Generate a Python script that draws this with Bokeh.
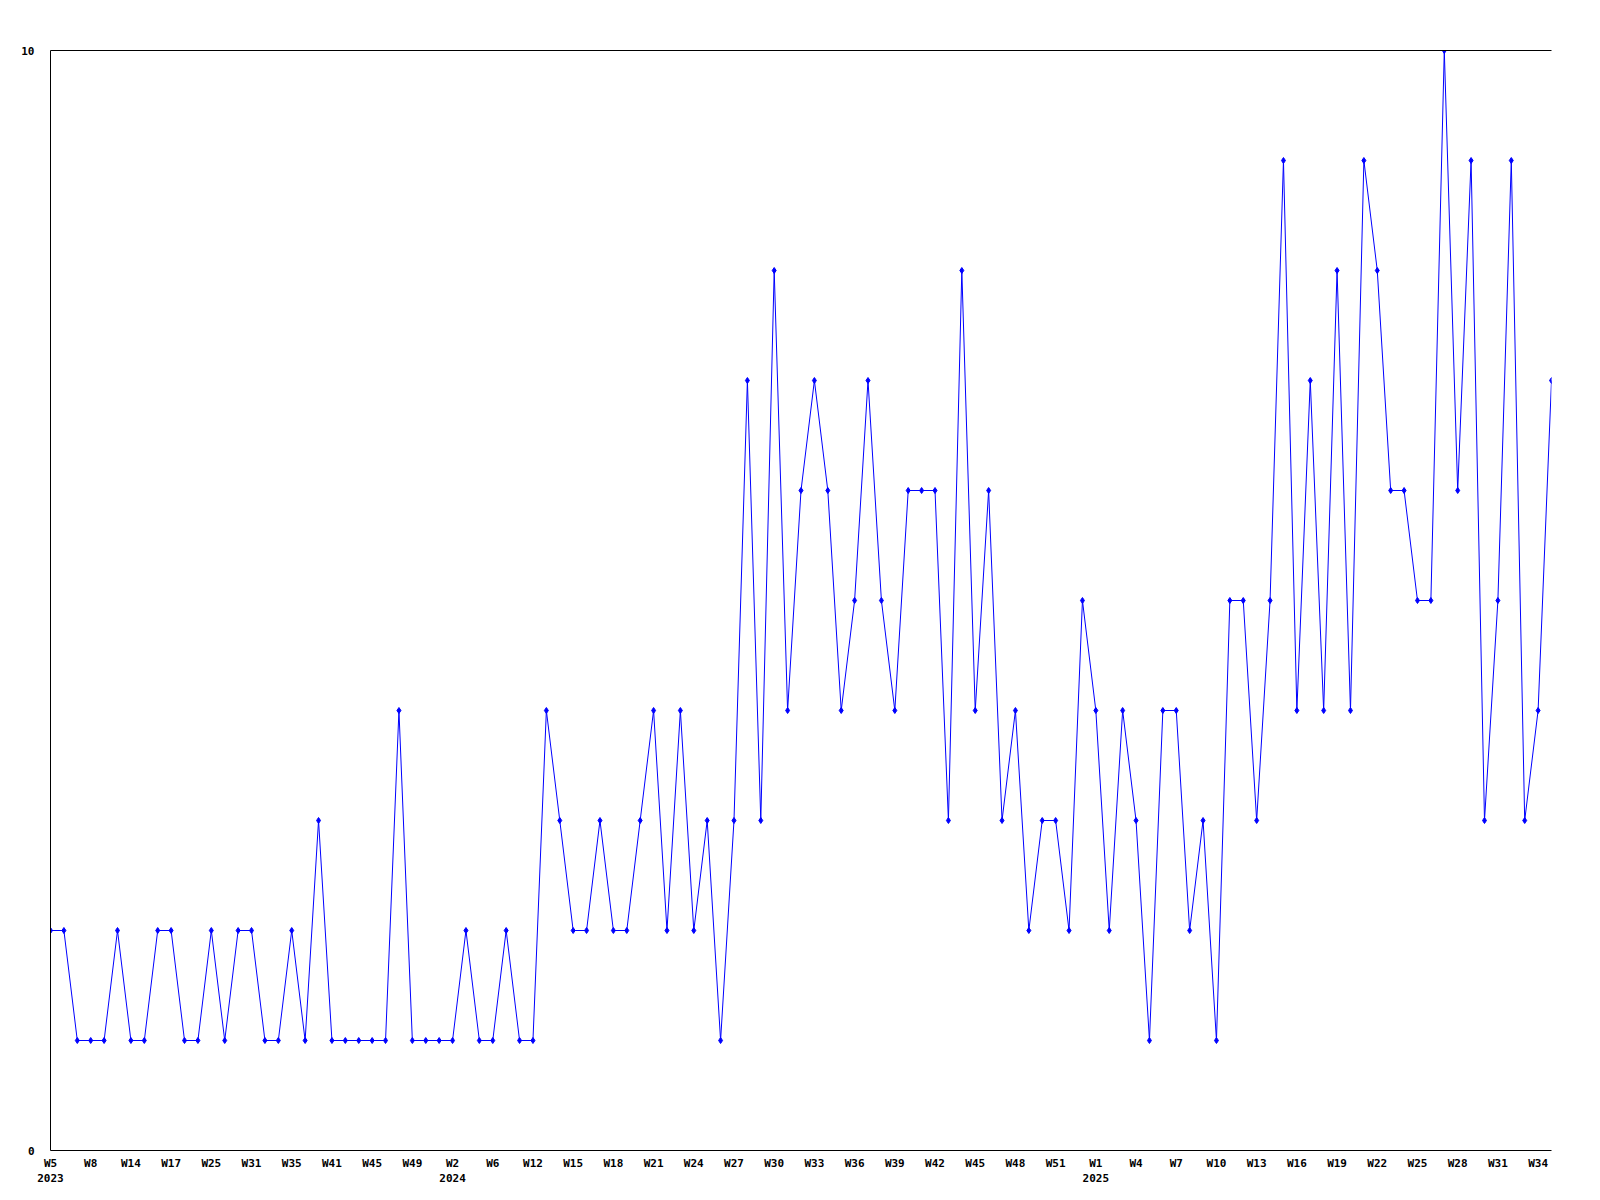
from bokeh.plotting import figure
from bokeh.models import Range1d, FixedTicker, LinearAxis, ColumnDataSource
from bokeh.embed import file_html
from bokeh.resources import INLINE

# ---- data -------------------------------------------------------------
weeks_2023 = ["W5", "W6", "W7", "W8", "W10", "W12", "W14", "W15", "W16", "W17",
              "W19", "W22", "W25", "W27", "W29", "W31", "W32", "W34", "W35", "W37",
              "W39", "W41", "W42", "W43", "W45", "W46", "W47", "W49", "W50", "W51"]
weeks_2024 = ["W2", "W3", "W5", "W6", "W8", "W10"] + ["W%d" % w for w in range(12, 53)] + ["W53"]
weeks_2025 = ["W%d" % w for w in range(1, 36)]
years = ["2023", "2024", "2025"]

values = [2, 2, 1, 1, 1, 2, 1, 1, 2, 2,
          1, 1, 2, 1, 2, 2, 1, 1, 2, 1,
          3, 1, 1, 1, 1, 1, 4, 1, 1, 1,
          1, 2, 1, 1, 2, 1, 1, 4, 3, 2,
          2, 3, 2, 2, 3, 4, 2, 4, 2, 3,
          1, 3, 7, 3, 8, 4, 6, 7, 6, 4,
          5, 7, 5, 4, 6, 6, 6, 3, 8, 4,
          6, 3, 4, 2, 3, 3, 2, 5, 4, 2,
          4, 3, 1, 4, 4, 2, 3, 1, 5, 5,
          3, 5, 9, 4, 7, 4, 8, 4, 9, 8,
          6, 6, 5, 5, 10, 6, 9, 3, 5, 9,
          3, 4, 7]

y_ticks = [0, 10]
label_step = 3

# ---- derived ----------------------------------------------------------
week_labels = weeks_2023 + weeks_2024 + weeks_2025
year_starts = {0: years[0], len(weeks_2023): years[1],
               len(weeks_2023) + len(weeks_2024): years[2]}
xs = list(range(len(values)))
src = ColumnDataSource(dict(x=xs, y=values, week=week_labels))

tick_pos = list(range(0, len(values), label_step))
overrides = {}
for i in tick_pos:
    lab = week_labels[i]
    if i in year_starts:
        lab = lab + "\n" + year_starts[i]
    overrides[i] = lab

FONT = "DejaVu Sans Mono"

p = figure(frame_width=1501, frame_height=1100,
           min_border_left=50, min_border_top=50, min_border_right=40, min_border_bottom=45,
           x_range=Range1d(0, len(values) - 1), y_range=Range1d(0, 10),
           output_backend="svg", toolbar_location=None, tools="")
p.outline_line_color = None
p.xgrid.grid_line_color = None
p.ygrid.grid_line_color = None
p.background_fill_color = "white"
p.border_fill_color = "white"

p.line("x", "y", source=src, line_color="#0000ff", line_width=1)
p.scatter("x", "y", source=src, marker="diamond", size=6,
          fill_color="#0000ff", line_color="#0000ff")

for ax in (p.xaxis[0], p.yaxis[0]):
    ax.major_tick_line_color = None
    ax.minor_tick_line_color = None
    ax.axis_line_color = "black"
    ax.axis_line_width = 1
    ax.major_label_text_font = FONT
    ax.major_label_text_font_style = "bold"
    ax.major_label_text_font_size = "11px"
    ax.major_label_text_color = "black"

p.xaxis[0].ticker = FixedTicker(ticks=tick_pos)
p.xaxis[0].major_label_overrides = overrides
p.xaxis[0].major_label_standoff = 0
p.yaxis[0].ticker = FixedTicker(ticks=y_ticks)
p.yaxis[0].major_label_standoff = 10

top = LinearAxis(ticker=FixedTicker(ticks=[]), major_tick_line_color=None,
                 minor_tick_line_color=None, major_label_text_font_size="0px",
                 axis_line_color="black")
p.add_layout(top, "above")

open("out.html", "w").write(file_html(p, INLINE))
